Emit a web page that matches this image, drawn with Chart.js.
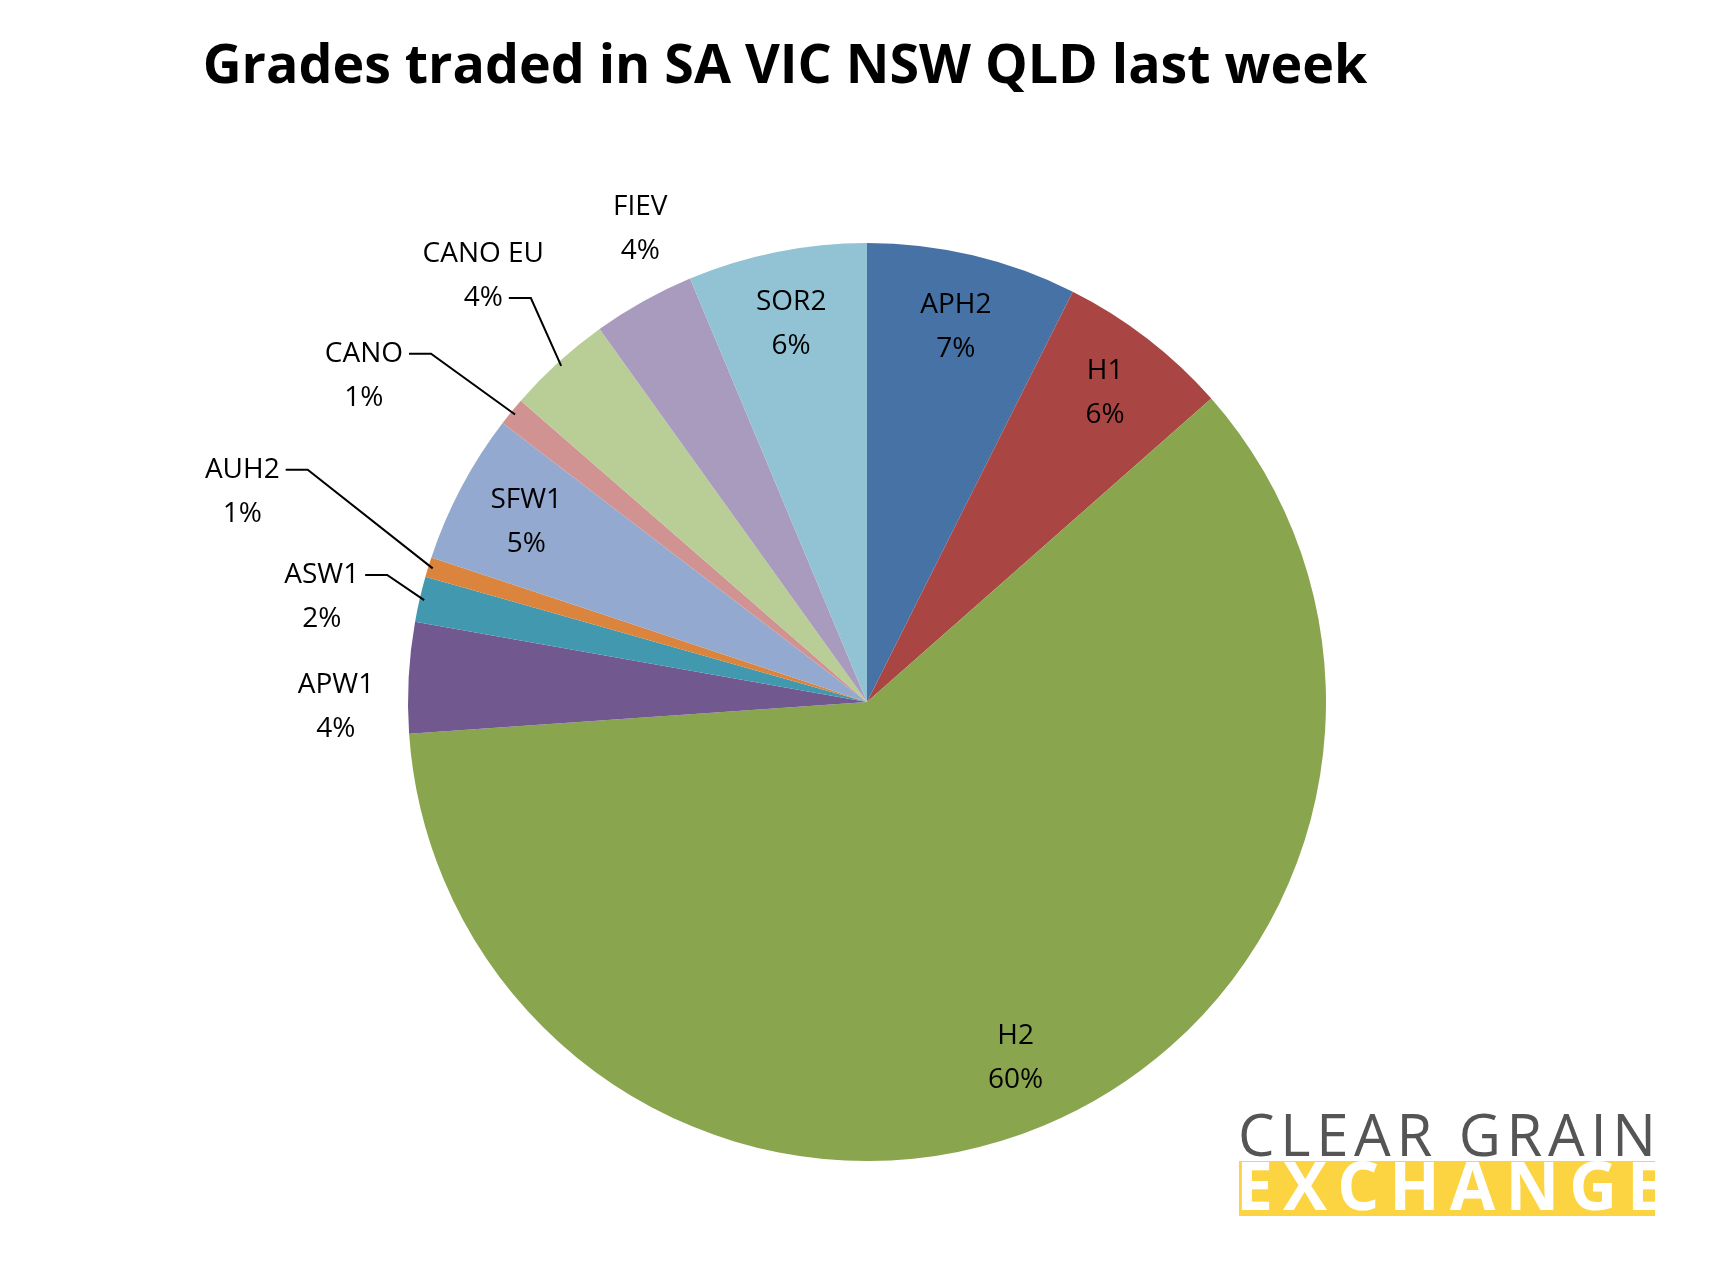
<!DOCTYPE html>
<html><head><meta charset="utf-8">
<script src="https://cdn.jsdelivr.net/npm/chart.js@4"></script>
<style>html,body{margin:0;padding:0;background:#fff}#w{width:1732px;height:1283px}</style>
</head><body><div id="w"><canvas id="c"></canvas></div>
<script>
const categories = ["APH2","H1","H2","APW1","ASW1","AUH2","SFW1","CANO","CANO EU","FIEV","SOR2"];
const values = [7.4,6.1,60.4,3.9,1.6,0.7,5.3,1.0,3.7,3.6,6.3];
const colors = ["#4672A6","#A94644","#89A54E","#71588F","#4198AF","#DB843D","#93A9CF","#D19392","#B9CD96","#A99BBD","#92C3D5"];
const title = "Grades traded in SA VIC NSW QLD last week";

const labelPlace = {
  "APH2":{r:0.84},"H1":{r:0.85},"H2":{r:0.84},"SFW1":{r:0.84},"SOR2":{r:0.84},
  "FIEV":{dx:-0.494,dy:-1.03},
  "CANO EU":{dx:-0.836,dy:-0.928,lead:true},
  "CANO":{dx:-1.096,dy:-0.711,lead:true},
  "AUH2":{dx:-1.361,dy:-0.458,lead:true},
  "ASW1":{dx:-1.188,dy:-0.229,lead:true},
  "APW1":{dx:-1.157,dy:0.012}
};
const FONT = '"Open Sans", sans-serif';

function fitText(ctx, txt, weight, size, width, x, y){
  ctx.font = weight+' '+size+'px '+FONT;
  ctx.letterSpacing='0px';
  const n = txt.length-1;
  const w0 = ctx.measureText(txt).width;
  const sp = (width-w0)/n;
  ctx.letterSpacing = sp+'px';
  ctx.fillText(txt,x,y);
  ctx.letterSpacing='0px';
}

const labelPlugin = {
  id:'lbl',
  afterDatasetsDraw(chart){
    const ctx = chart.ctx;
    const meta = chart.getDatasetMeta(0);
    const total = values.reduce((a,b)=>a+b,0);
    ctx.save();
    ctx.font = '28px '+FONT;
    ctx.fillStyle = '#000';
    ctx.textAlign='center'; ctx.textBaseline='middle';
    meta.data.forEach((arc,i)=>{
      const p = arc.getProps(['x','y','startAngle','endAngle','outerRadius'],true);
      const mid = (p.startAngle+p.endAngle)/2, R=p.outerRadius;
      const lp = labelPlace[categories[i]];
      let x,y;
      if (lp.r!==undefined){ x=p.x+Math.cos(mid)*R*lp.r; y=p.y+Math.sin(mid)*R*lp.r; }
      else { x=p.x+lp.dx*R; y=p.y+lp.dy*R; }
      const pct = Math.round(values[i]/total*100)+'%';
      const name = categories[i];
      ctx.fillText(name,x,y-22);
      ctx.fillText(pct,x,y+22);
      if (lp.lead){
        const w = Math.max(ctx.measureText(name).width, ctx.measureText(pct).width);
        const ex=p.x+Math.cos(mid)*R*0.99, ey=p.y+Math.sin(mid)*R*0.99;
        const lx = x + (name==="CANO EU"? ctx.measureText(pct).width/2+6 : w/2+6);
        const ly = name==="CANO EU"? y+22 : y-22;
        ctx.strokeStyle='#000'; ctx.lineWidth=2;
        ctx.beginPath(); ctx.moveTo(lx,ly); ctx.lineTo(lx+22,ly); ctx.lineTo(ex,ey); ctx.stroke();
      }
    });
    let fs=56; ctx.font='bold '+fs+'px '+FONT;
    fs = fs*1165/ctx.measureText(title).width; ctx.font='bold '+fs+'px '+FONT;
    ctx.textAlign='center'; ctx.fillText(title,785,68);
    ctx.textAlign='left'; ctx.textBaseline='alphabetic';
    ctx.fillStyle='#555';
    fitText(ctx,"CLEAR GRAIN",'',58,418,1238,1156);
    ctx.fillStyle='#FCD441'; ctx.fillRect(1239,1161,416,55);
    ctx.fillStyle='#fff';
    fitText(ctx,"EXCHANGE",'bold',66,428,1236,1210);
    ctx.restore();
  }
};

new Chart(document.getElementById('c'),{
  type:'pie',
  data:{labels:categories,datasets:[{data:values,backgroundColor:colors,borderWidth:0}]},
  options:{responsive:true,maintainAspectRatio:false,animation:false,
    layout:{padding:{top:243,bottom:122,left:408,right:406}},
    plugins:{legend:{display:false},tooltip:{enabled:false}}},
  plugins:[labelPlugin]
});
</script></body></html>
